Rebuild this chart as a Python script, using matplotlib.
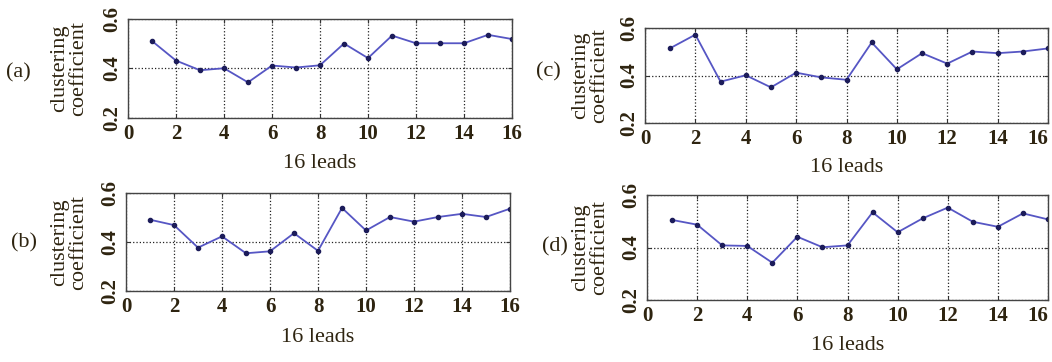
import matplotlib
matplotlib.use("Agg")
import matplotlib.pyplot as plt
import numpy as np

leads = list(range(1, 17))
vals_a = [0.511, 0.432, 0.393, 0.401, 0.344, 0.412, 0.404, 0.413, 0.501, 0.442, 0.533, 0.502, 0.502, 0.502, 0.536, 0.519]
vals_b = [0.491, 0.469, 0.377, 0.423, 0.354, 0.362, 0.436, 0.364, 0.539, 0.447, 0.502, 0.483, 0.502, 0.515, 0.502, 0.536]
vals_c = [0.515, 0.572, 0.374, 0.401, 0.350, 0.412, 0.392, 0.382, 0.539, 0.426, 0.494, 0.450, 0.501, 0.494, 0.501, 0.514]
vals_d = [0.505, 0.487, 0.408, 0.406, 0.342, 0.441, 0.401, 0.408, 0.534, 0.458, 0.511, 0.552, 0.498, 0.479, 0.530, 0.507]
panel_labels = ["(a)", "(b)", "(c)", "(d)"]
xticks = [0, 2, 4, 6, 8, 10, 12, 14, 16]
yticks = [0.2, 0.4, 0.6]
xlabel = "16 leads"
ylabel = "clustering\ncoefficient"

W, H = 1052, 362
fig = plt.figure(figsize=(W / 100, H / 100), dpi=100)
plt.rcParams['font.family'] = ['Liberation Serif', 'DejaVu Serif']

txt_color = '#2e2410'
line_color = '#5656c4'
mk_color = '#1c1c5a'

# (left, right, top, bottom) in pixels, label x, label y, ylabel x, xlabel y
panels = [
    (vals_a, (128, 512, 19, 118), 18, 73, 69, 164),
    (vals_b, (126, 510, 193, 291), 24, 243, 69, 338),
    (vals_c, (645, 1048, 28, 123), 548, 72, 590, 167),
    (vals_d, (647, 1048, 195, 300), 555, 247, 590, 345),
]

for (vals, (l, r, t, b), lx, ly, ylx, xly), plab in zip(panels, panel_labels):
    ax = fig.add_axes([l / W, 1 - b / H, (r - l) / W, (b - t) / H])
    ax.plot(leads, vals, color=line_color, lw=1.3, marker='.', ms=6,
            mfc=mk_color, mec=mk_color)
    ax.set_xlim(0, 16)
    ax.set_ylim(0.2, 0.6)
    ax.set_xticks(xticks)
    ax.set_yticks(yticks)
    ax.set_xticklabels([str(v) for v in xticks], fontsize=15, color=txt_color,
                       fontweight='bold')
    ax.set_yticklabels(["%.1f" % v for v in yticks], fontsize=15, color=txt_color,
                       rotation=90, va='center', fontweight='bold')
    ax.tick_params(direction='in', length=3, width=0.8, colors='#333333',
                   top=True, right=True, pad=4)
    for lab in ax.get_xticklabels() + ax.get_yticklabels():
        lab.set_color(txt_color)
    if r > 1040:
        ax.get_xticklabels()[-1].set_ha('right')
    ax.grid(True, linestyle=':', color='#222222', lw=0.9)
    for sp in ax.spines.values():
        sp.set_color('#444444')
        sp.set_linewidth(1.0)
    cx = (l + r) / 2
    fig.text(cx / W, 1 - xly / H, xlabel, ha='center', va='center',
             fontsize=16, color=txt_color)
    fig.text(ylx / W, 1 - ((t + b) / 2) / H, ylabel, ha='center', va='center',
             rotation=90, fontsize=16, color=txt_color, linespacing=0.95,
             multialignment='center')
    fig.text(lx / W, 1 - ly / H, plab, ha='center', va='center',
             fontsize=16, color=txt_color)

fig.savefig("out.png", dpi=100)
